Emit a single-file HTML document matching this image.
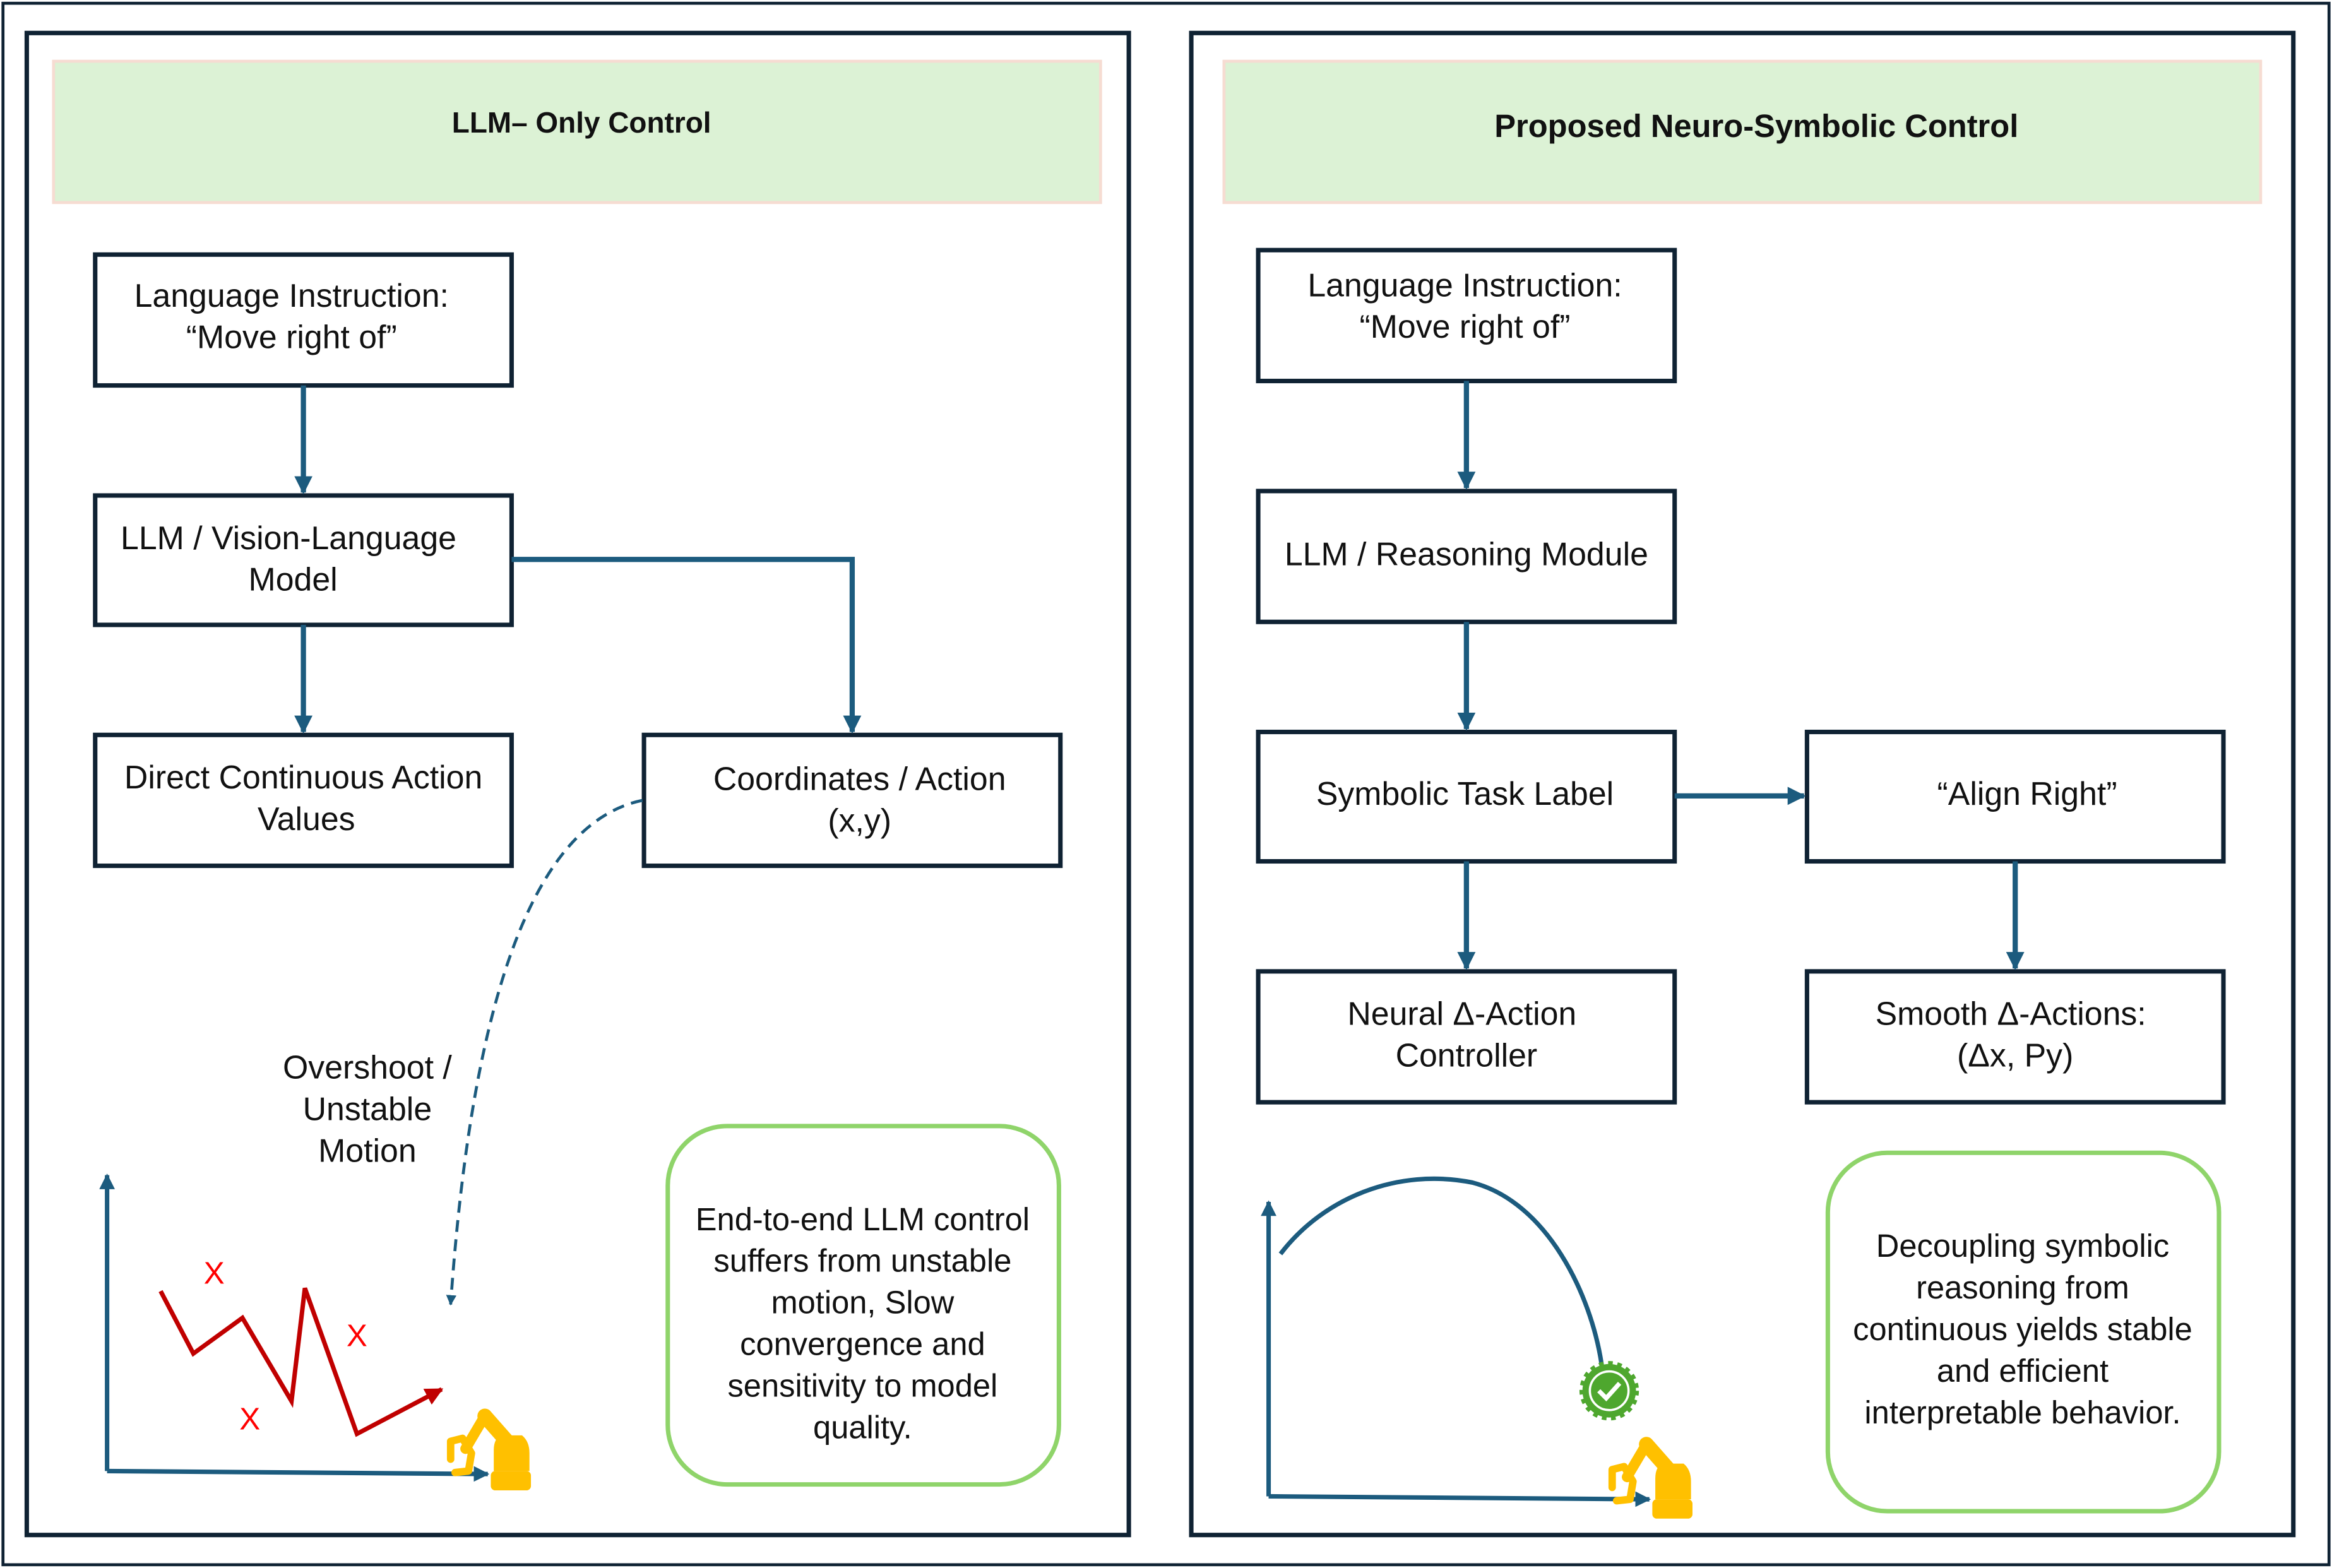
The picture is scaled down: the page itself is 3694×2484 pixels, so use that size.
<!DOCTYPE html>
<html><head><meta charset="utf-8"><style>
html,body{margin:0;padding:0;background:#fff}
svg{display:block}
text{font-family:"Liberation Sans",sans-serif;fill:#111}
</style></head><body>
<svg width="3694" height="2484" viewBox="0 0 1568 1054" xmlns="http://www.w3.org/2000/svg">
<defs>
<marker id="ah" viewBox="0 0 10 10" refX="9" refY="5" markerWidth="3.5" markerHeight="3.5" orient="auto" markerUnits="strokeWidth"><path d="M0,0 L10,5 L0,10 z" fill="#1c5b7e"/></marker>
<marker id="ar" viewBox="0 0 10 10" refX="9" refY="5" markerWidth="4" markerHeight="4" orient="auto" markerUnits="strokeWidth"><path d="M0,0 L10,5 L0,10 z" fill="#c00000"/></marker>
<g id="robot">
<rect x="29" y="42" width="27" height="13" rx="3" fill="#ffc000"/>
<path d="M31,42 L31,28 Q31,20 36,18 L50,18 Q55,22 55,30 L55,42 z" fill="#ffc000"/>
<line x1="47" y1="30" x2="25" y2="5" stroke="#ffc000" stroke-width="10" stroke-linecap="round"/>
<line x1="25" y1="5" x2="12" y2="27" stroke="#ffc000" stroke-width="7" stroke-linecap="round"/>
<polyline points="2,34 2,22 10,20 16,30 14,42 5,43" fill="none" stroke="#ffc000" stroke-width="5" stroke-linejoin="round" stroke-linecap="round"/>
</g>
</defs>
<rect x="2" y="2" width="1564" height="1050" fill="none" stroke="#0f2233" stroke-width="2"/>
<rect x="18" y="22" width="741" height="1010" fill="none" stroke="#0f2233" stroke-width="3"/>
<rect x="801" y="22" width="741" height="1010" fill="none" stroke="#0f2233" stroke-width="3"/>
<rect x="36" y="41" width="704" height="95" fill="#dcf2d5" stroke="#f6dcd2" stroke-width="2"/>
<rect x="823" y="41" width="697" height="95" fill="#dcf2d5" stroke="#f6dcd2" stroke-width="2"/>
<text x="391" y="89" font-size="19.5" font-weight="bold" text-anchor="middle">LLM– Only Control</text>
<text x="1181" y="92" font-size="21.5" font-weight="bold" text-anchor="middle">Proposed Neuro-Symbolic Control</text>

<g fill="#fff" stroke="#0f2233" stroke-width="3">
<rect x="64" y="171" width="280" height="88"/>
<rect x="64" y="333" width="280" height="87"/>
<rect x="64" y="494" width="280" height="88"/>
<rect x="433" y="494" width="280" height="88"/>
<rect x="846" y="168" width="280" height="88"/>
<rect x="846" y="330" width="280" height="88"/>
<rect x="846" y="492" width="280" height="87"/>
<rect x="1215" y="492" width="280" height="87"/>
<rect x="846" y="653" width="280" height="88"/>
<rect x="1215" y="653" width="280" height="88"/>
</g>
<g font-size="22" text-anchor="middle">
<text x="196" y="206">Language Instruction:</text>
<text x="196" y="234">“Move right of”</text>
<text x="194" y="369">LLM / Vision-Language</text>
<text x="197" y="397">Model</text>
<text x="204" y="530">Direct Continuous Action</text>
<text x="206" y="558">Values</text>
<text x="578" y="531">Coordinates / Action</text>
<text x="578" y="559">(x,y)</text>
<text x="985" y="199">Language Instruction:</text>
<text x="985" y="227">“Move right of”</text>
<text x="986" y="380">LLM / Reasoning Module</text>
<text x="985" y="541">Symbolic Task Label</text>
<text x="1363" y="541">“Align Right”</text>
<text x="983" y="689">Neural Δ-Action</text>
<text x="986" y="717">Controller</text>
<text x="1352" y="689">Smooth Δ-Actions:</text>
<text x="1355" y="717">(Δx, Py)</text>
<text x="247" y="725">Overshoot /</text>
<text x="247" y="753">Unstable</text>
<text x="247" y="781">Motion</text>
</g>

<g stroke="#1c5b7e" stroke-width="3.5" fill="none" marker-end="url(#ah)">
<line x1="204" y1="259" x2="204" y2="331"/>
<line x1="204" y1="420" x2="204" y2="492"/>
<polyline points="344,376 573,376 573,492"/>
<line x1="986" y1="256" x2="986" y2="328"/>
<line x1="986" y1="418" x2="986" y2="490"/>
<line x1="1126" y1="535" x2="1213" y2="535"/>
<line x1="986" y1="579" x2="986" y2="651"/>
<line x1="1355" y1="579" x2="1355" y2="651"/>
</g>
<path d="M432,538 Q325,560 303,877" stroke="#1c5b7e" stroke-width="2" fill="none" stroke-dasharray="8,5" marker-end="url(#ah)"/>

<g stroke="#1c5b7e" stroke-width="3" fill="none" marker-end="url(#ah)">
<line x1="72" y1="989" x2="72" y2="790"/>
<line x1="72" y1="989" x2="328" y2="991"/>
<line x1="853" y1="1006" x2="853" y2="808"/>
<line x1="853" y1="1006" x2="1109" y2="1008"/>
</g>
<polyline points="108,868 130,910 163,886 196,942 205,866 240,964 297,934" stroke="#c00000" stroke-width="3" fill="none" stroke-linejoin="miter" marker-end="url(#ar)"/>
<g font-size="21" text-anchor="middle">
<text x="144" y="863" style="fill:#ff0000">X</text>
<text x="240" y="905" style="fill:#ff0000">X</text>
<text x="168" y="961" style="fill:#ff0000">X</text>
</g>
<use href="#robot" x="301" y="947"/>
<use href="#robot" x="1082" y="966"/>

<path d="M861,843 C890,805 940,785 990,795 C1040,808 1070,870 1077,918" stroke="#1c5b7e" stroke-width="3" fill="none"/>
<circle cx="1082" cy="935" r="18" fill="#4ea72e" stroke="#4ea72e" stroke-width="4" stroke-dasharray="3,3"/>
<circle cx="1082" cy="935" r="13" fill="none" stroke="#fff" stroke-width="1.5"/>
<polyline points="1075,935 1080,940 1089,930" stroke="#fff" stroke-width="3" fill="none"/>

<rect x="449" y="757" width="263" height="241" rx="40" fill="#fff" stroke="#8fd46a" stroke-width="3"/>
<rect x="1229" y="775" width="263" height="241" rx="40" fill="#fff" stroke="#8fd46a" stroke-width="3"/>
<g font-size="21.5" text-anchor="middle">
<text x="580" y="827">End-to-end LLM control</text>
<text x="580" y="855">suffers from unstable</text>
<text x="580" y="883">motion, Slow</text>
<text x="580" y="911">convergence and</text>
<text x="580" y="939">sensitivity to model</text>
<text x="580" y="967">quality.</text>
<text x="1360" y="845">Decoupling symbolic</text>
<text x="1360" y="873">reasoning from</text>
<text x="1360" y="901">continuous yields stable</text>
<text x="1360" y="929">and efficient</text>
<text x="1360" y="957">interpretable behavior.</text>
</g>
</svg>
</body></html>
